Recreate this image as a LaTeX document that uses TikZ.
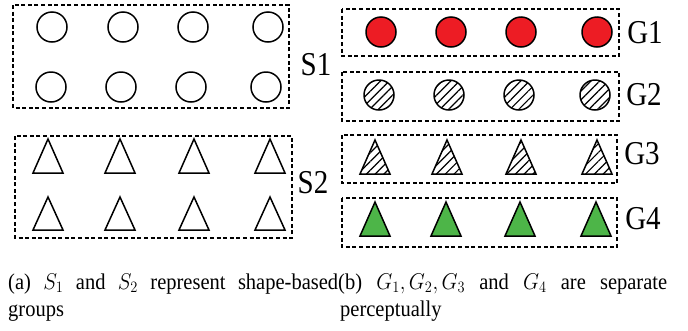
\documentclass[tikz,border=0pt]{standalone}
\usepackage{fontspec}
\setmainfont{Liberation Serif}
\usetikzlibrary{patterns.meta}
\definecolor{redfill}{RGB}{237,28,36}
\definecolor{greenfill}{RGB}{77,181,72}
\tikzset{
  grpbox/.style={draw=black, line width=1.3pt, dash pattern=on 4pt off 2.6pt},
  circ/.style={circle, draw=black, line width=1.5pt, minimum size=30pt, inner sep=0pt},
  redc/.style={circ, fill=redfill},
  hatchc/.style={circ, pattern={Lines[angle=45,distance=6.2pt,line width=1.2pt]}},
  tri/.style={draw=black, line width=1.5pt},
  hatcht/.style={tri, pattern={Lines[angle=45,distance=6.2pt,line width=1.2pt]}},
  greent/.style={tri, fill=greenfill},
  grplabel/.style={inner sep=0pt, font=\fontsize{29}{33}\selectfont},
  capline/.style={inner sep=0pt, anchor=base west, font=\fontsize{20.5}{24}\selectfont}
}
\newcommand{\vstretch}[1]{\scalebox{1}[1.15]{#1}}
\newcommand{\capstretch}[1]{\scalebox{1}[1.1]{#1}}
\begin{document}
\begin{tikzpicture}[x=1pt,y=-1pt]
\useasboundingbox (0,0) rectangle (688,330);
% ---------- left panel ----------
\draw[grpbox] (13,5) rectangle (289,108);
\node[circ] (a1) at (52,27) {};
\node[circ] (a2) at (123,27) {};
\node[circ] (a3) at (193,27) {};
\node[circ] (a4) at (268,27) {};
\node[circ] (a5) at (51,87) {};
\node[circ] (a6) at (121,87) {};
\node[circ] (a7) at (191,87) {};
\node[circ] (a8) at (266,87) {};
\node[grplabel] (s1) at (316,65) {\vstretch{S1}};
\draw[grpbox] (15,136) rectangle (292,238);
\foreach \x in {48,120,194,270}{
  \draw[tri] (\x,139) -- (\x+15,173) -- (\x-15,173) -- cycle;
  \draw[tri] (\x,197) -- (\x+15,230) -- (\x-15,230) -- cycle;
}
\node[grplabel] (s2) at (313,183) {\vstretch{S2}};
% ---------- right panel ----------
\draw[grpbox] (342,9) rectangle (619,56);
\node[redc] (r1) at (381,32) {};
\node[redc] (r2) at (451,32) {};
\node[redc] (r3) at (521,32) {};
\node[redc] (r4) at (597,32) {};
\node[grplabel] (g1) at (645,33) {\vstretch{G1}};
\draw[grpbox] (342,72) rectangle (619,121);
\node[hatchc] (h1) at (379,95) {};
\node[hatchc] (h2) at (449,95) {};
\node[hatchc] (h3) at (519,95) {};
\node[hatchc] (h4) at (595,95) {};
\node[grplabel] (g2) at (644,95) {\vstretch{G2}};
\draw[grpbox] (342,135) rectangle (617,183);
\foreach \x in {375,447,521,597}{
  \draw[hatcht] (\x,140) -- (\x+15,174) -- (\x-15,174) -- cycle;
}
\node[grplabel] (g3) at (642,154) {\vstretch{G3}};
\draw[grpbox] (342,198) rectangle (617,247);
\foreach \x in {375,446,520,596}{
  \draw[greent] (\x,202) -- (\x+15,236) -- (\x-15,236) -- cycle;
}
\node[grplabel] (g4) at (643,219) {\vstretch{G4}};
% ---------- captions ----------
\node[capline] (ca1) at (8,289) {\capstretch{\makebox[330pt][s]{(a) $S_1$ and $S_2$ represent shape-based}}};
\node[capline] (ca2) at (8,316) {\capstretch{groups}};
\node[capline] (cb1) at (338,289) {\capstretch{\makebox[329pt][s]{(b) $G_1,G_2,G_3$ and $G_4$ are separate}}};
\node[capline] (cb2) at (340,316) {\capstretch{perceptually}};
\end{tikzpicture}
\end{document}
